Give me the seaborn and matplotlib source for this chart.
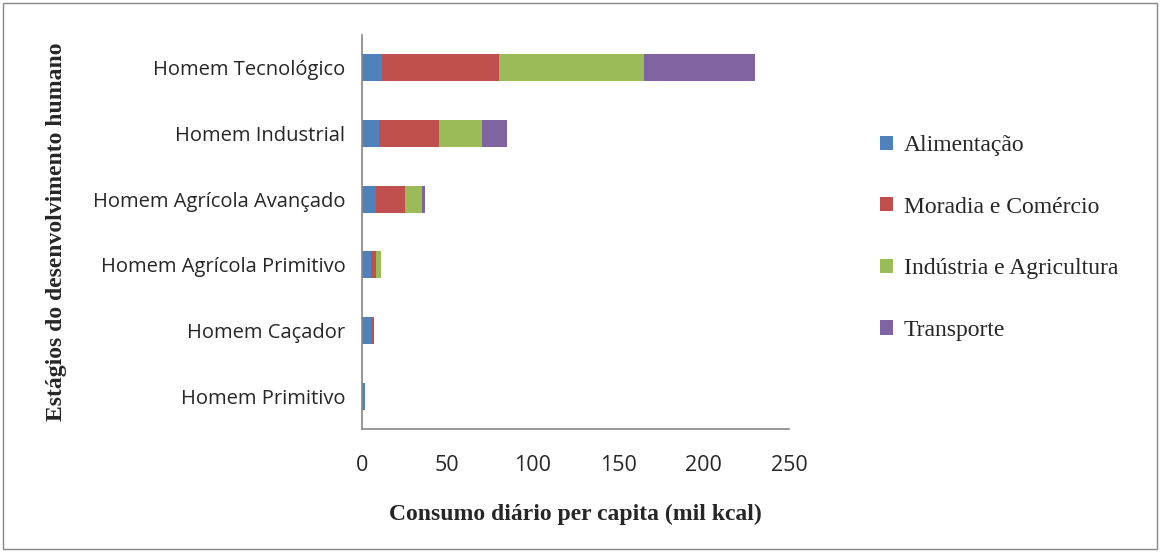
import numpy as np
import pandas as pd
import matplotlib
matplotlib.use("Agg")
import matplotlib.pyplot as plt
from matplotlib.patches import Patch, Rectangle
import seaborn as sns

# estagios (de cima para baixo) e consumo por setor (mil kcal)
estagios = ["Homem Tecnológico", "Homem Industrial", "Homem Agrícola Avançado",
            "Homem Agrícola Primitivo", "Homem Caçador", "Homem Primitivo"]
alimentacao = [12, 10, 8, 5, 5, 2]
moradia = [68, 35, 17, 3, 2, 0]
industria = [85, 25, 10, 3, 0, 0]
transporte = [65, 15, 2, 0, 0, 0]

setores = ["Alimentação", "Moradia e Comércio", "Indústria e Agricultura", "Transporte"]
cores = ["#4F81BD", "#C0504D", "#9BBB59", "#8064A2"]

df = pd.DataFrame({"estagio": estagios, "Alimentação": alimentacao,
                   "Moradia e Comércio": moradia,
                   "Indústria e Agricultura": industria,
                   "Transporte": transporte})
acum = df[setores].cumsum(axis=1)

sns.set_style("white")
fig = plt.figure(figsize=(11.6, 5.52), dpi=100)
ax = fig.add_axes([362 / 1160, 1 - 429 / 552, 427 / 1160, 394 / 552])

# barras empilhadas: desenha o acumulado do maior para o menor
for s, c in zip(reversed(setores), reversed(cores)):
    sns.barplot(x=acum[s], y=df["estagio"], color=c, width=0.41,
                saturation=1, linewidth=0, ax=ax, orient="h")

ax.set_xlim(0, 250)
ax.set_ylim(5.5, -0.5)
ax.set_xticks(range(0, 251, 50))
ax.set_yticks(np.arange(-0.5, 6, 1), minor=True)
ax.tick_params(axis="y", which="major", length=0, pad=12)
ax.tick_params(axis="y", which="minor", length=5, color="#868686", width=1)
ax.tick_params(axis="x", length=5, color="#868686", width=1, pad=14, direction="out")
for lab in ax.get_yticklabels():
    lab.set_fontfamily("Open Sans")
    lab.set_fontsize(14.5)
for lab in ax.get_xticklabels():
    lab.set_fontfamily("Open Sans")
    lab.set_fontsize(15.5)
for sp in ["top", "right"]:
    ax.spines[sp].set_visible(False)
for sp in ["left", "bottom"]:
    ax.spines[sp].set_color("#868686")
    ax.spines[sp].set_linewidth(1.2)

ax.set_xlabel("Consumo diário per capita (mil kcal)", fontfamily="Liberation Serif",
              fontweight="bold", fontsize=17, labelpad=20)
ax.set_ylabel("")
fig.text(57 / 1160, 1 - 232 / 552, "Estágios do desenvolvimento humano",
         rotation=90, ha="center", va="center", fontfamily="Liberation Serif",
         fontweight="bold", fontsize=17)

handles = [Patch(facecolor=c, edgecolor="none") for c in cores]
fig.legend(handles, setores, loc="center left", bbox_to_anchor=(859 / 1160, 1 - 238 / 552),
           frameon=False, prop={"family": "Liberation Serif", "size": 17},
           handlelength=0.55, handleheight=0.55, handletextpad=0.45, labelspacing=1.72)

fig.patches.append(Rectangle((3 / 1160, 3 / 552), 1154 / 1160, 546 / 552,
                             transform=fig.transFigure, fill=False,
                             edgecolor="#898989", linewidth=1))

fig.savefig("out.png", dpi=100)
